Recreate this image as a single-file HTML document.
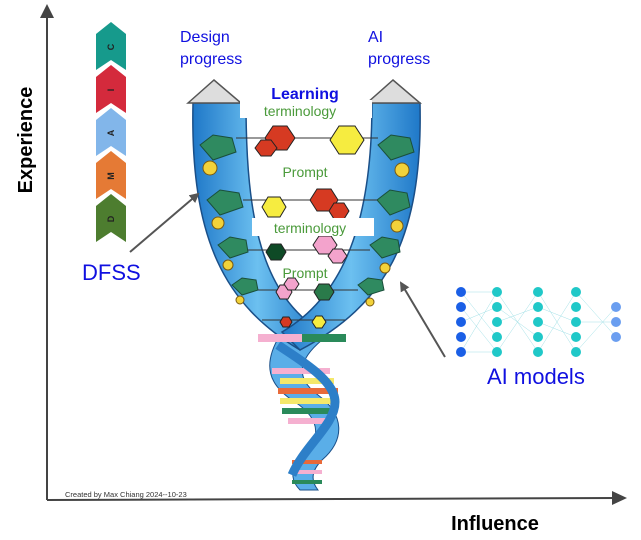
<!DOCTYPE html>
<html><head><meta charset="utf-8"><style>
html,body{margin:0;padding:0;background:#fff;}
svg{display:block;font-family:"Liberation Sans",Arial,sans-serif;}
</style></head><body>
<svg width="641" height="540" viewBox="0 0 641 540" xmlns="http://www.w3.org/2000/svg">
<defs>
<linearGradient id="bl" x1="0" x2="1"><stop offset="0" stop-color="#1f78c8"/><stop offset="0.5" stop-color="#6cc0f0"/><stop offset="1" stop-color="#1f78c8"/></linearGradient>
<marker id="ah" markerWidth="10" markerHeight="10" refX="8" refY="5" orient="auto" markerUnits="userSpaceOnUse"><path d="M0,0 L10,5 L0,10 z" fill="#555"/></marker>
</defs>
<line x1="47" y1="500" x2="47" y2="14" stroke="#444" stroke-width="2"/>
<path d="M40,18 L47,4 L54,18 z" fill="#444"/>
<line x1="47" y1="500" x2="616" y2="498" stroke="#444" stroke-width="2"/>
<path d="M612,491 L627,498 L612,505 z" fill="#444"/>
<text x="32" y="140" font-size="20" font-weight="bold" transform="rotate(-90 32 140)" text-anchor="middle">Experience</text>
<text x="495" y="530" font-size="20" font-weight="bold" text-anchor="middle">Influence</text>
<text x="65" y="497" font-size="7.5" fill="#333">Created by Max Chiang 2024--10-23</text>
<g>
<path d="M96,34 L111,22 L126,34 L126,70 L111,60 L96,70 z" fill="#169a8c"/>
<path d="M96,77 L111,65 L126,77 L126,113 L111,103 L96,113 z" fill="#d42a3c"/>
<path d="M96,120 L111,108 L126,120 L126,156 L111,146 L96,156 z" fill="#82b6ea"/>
<path d="M96,163 L111,151 L126,163 L126,199 L111,189 L96,199 z" fill="#e57a35"/>
<path d="M96,206 L111,194 L126,206 L126,242 L111,232 L96,242 z" fill="#4d7d2f"/>
<g font-size="9" font-weight="bold" fill="#222">
<text transform="translate(114,47) rotate(-90)" text-anchor="middle">C</text>
<text transform="translate(114,90) rotate(-90)" text-anchor="middle">I</text>
<text transform="translate(114,133) rotate(-90)" text-anchor="middle">A</text>
<text transform="translate(114,176) rotate(-90)" text-anchor="middle">M</text>
<text transform="translate(114,219) rotate(-90)" text-anchor="middle">D</text>
</g>
</g>
<g fill="#1010e0" font-size="16">
<text x="180" y="42">Design</text><text x="180" y="64">progress</text>
<text x="368" y="42">AI</text><text x="368" y="64">progress</text>
</g>
<text x="82" y="280" font-size="22" fill="#1010e0">DFSS</text>
<text x="487" y="384" font-size="22" fill="#1010e0">AI models</text>
<path d="M280,335 C262,365 268,385 295,402 C322,420 322,440 298,462 C290,472 292,482 300,490 L318,490 C310,480 312,470 322,460 C345,440 345,415 318,395 C295,378 298,360 322,340 z" fill="#5aaee8" stroke="#1a4f88"/>
<g>
<rect x="272" y="368" width="58" height="6" fill="#f5b0d0"/><rect x="280" y="378" width="54" height="6" fill="#f4e86a"/>
<rect x="278" y="388" width="60" height="6" fill="#e86a3a"/><rect x="280" y="398" width="56" height="6" fill="#f4e86a"/>
<rect x="282" y="408" width="50" height="6" fill="#2a8a5a"/><rect x="288" y="418" width="42" height="6" fill="#f5b0d0"/>
<rect x="292" y="460" width="30" height="4" fill="#e86a3a"/><rect x="292" y="470" width="30" height="4" fill="#f5b0d0"/><rect x="292" y="480" width="30" height="4" fill="#2a8a5a"/>
</g>
<path d="M278,345 C300,360 335,380 335,402 C335,425 305,445 292,475" fill="none" stroke="#2d7fc8" stroke-width="9"/>
<path d="M193,103 C190,240 225,305 300,350 L322,332 C262,295 246,220 246,103 z" fill="url(#bl)" stroke="#1a4f88" stroke-width="1.5"/>
<path d="M420,103 C423,240 385,305 300,350 L282,332 C345,295 372,220 372,103 z" fill="url(#bl)" stroke="#1a4f88" stroke-width="1.5"/>
<rect x="258" y="334" width="44" height="8" fill="#f5b0d0"/><rect x="302" y="334" width="44" height="8" fill="#2a8a5a"/>
<path d="M188,103 L214,80 L241,103 z" fill="#ddd" stroke="#555" stroke-width="1.5"/>
<path d="M367,103 L393,80 L420,103 z" fill="#ddd" stroke="#555" stroke-width="1.5"/>
<g fill="#2f8a60" stroke="#1a4f3a">
<path d="M200,145 L213,135 L232,138 L236,152 L213,160 z"/><path d="M207,200 L220,190 L239,193 L243,207 L220,215 z"/>
<path d="M218,245 L230,237 L246,240 L248,252 L230,258 z"/><path d="M232,285 L242,278 L256,280 L258,290 L242,295 z"/>
<path d="M378,145 L391,135 L410,138 L414,152 L391,160 z"/><path d="M377,200 L390,190 L407,193 L410,207 L390,215 z"/>
<path d="M370,245 L382,237 L398,240 L400,252 L382,258 z"/><path d="M358,285 L368,278 L382,280 L384,290 L368,295 z"/>
</g>
<g fill="#f2d23a" stroke="#7a5a10">
<circle cx="210" cy="168" r="7"/><circle cx="218" cy="223" r="6"/><circle cx="228" cy="265" r="5"/><circle cx="240" cy="300" r="4"/>
<circle cx="402" cy="170" r="7"/><circle cx="397" cy="226" r="6"/><circle cx="385" cy="268" r="5"/><circle cx="370" cy="302" r="4"/>
</g>
<g stroke="#333" stroke-width="1">
<line x1="236" y1="138" x2="378" y2="138"/><line x1="243" y1="200" x2="377" y2="200"/><line x1="248" y1="250" x2="370" y2="250"/><line x1="258" y1="290" x2="358" y2="290"/><line x1="262" y1="320" x2="345" y2="320"/>
</g>
<g stroke="#222">
<path d="M265,138 l8,-12 h14 l8,12 l-8,12 h-14 z" fill="#d63a22"/><path d="M255,148 l6,-8 h10 l6,8 l-6,8 h-10 z" fill="#d63a22"/>
<path d="M330,140 l9,-14 h16 l9,14 l-9,14 h-16 z" fill="#f6ec40"/>
<path d="M262,207 l6,-10 h12 l6,10 l-6,10 h-12 z" fill="#f6ec40"/>
<path d="M310,200 l7,-11 h14 l7,11 l-7,11 h-14 z" fill="#d63a22"/><path d="M329,211 l5,-8 h10 l5,8 l-5,8 h-10 z" fill="#d63a22"/>
<path d="M266,252 l5,-8 h10 l5,8 l-5,8 h-10 z" fill="#0e4a26"/>
<path d="M313,245 l6,-9 h12 l6,9 l-6,9 h-12 z" fill="#f3a3cc"/><path d="M328,256 l5,-7 h9 l5,7 l-5,7 h-9 z" fill="#f3a3cc"/>
<path d="M276,292 l4,-7 h8 l4,7 l-4,7 h-8 z" fill="#f3a3cc"/><path d="M284,284 l4,-6 h7 l4,6 l-4,6 h-7 z" fill="#f3a3cc"/>
<path d="M314,292 l5,-8 h10 l5,8 l-5,8 h-10 z" fill="#2a7a4a"/>
<path d="M280,322 l3,-5 h6 l3,5 l-3,5 h-6 z" fill="#d63a22"/><path d="M312,322 l4,-6 h6 l4,6 l-4,6 h-6 z" fill="#f6ec40"/>
</g>
<rect x="240" y="100" width="132" height="18" fill="#fff"/>
<rect x="252" y="218" width="122" height="18" fill="#fff"/>
<text x="305" y="99" font-size="16" font-weight="bold" fill="#1010e0" text-anchor="middle">Learning</text>
<g fill="#4a9a3a" font-size="14" text-anchor="middle">
<text x="300" y="116">terminology</text><text x="305" y="177">Prompt</text>
<text x="310" y="233">terminology</text><text x="305" y="278">Prompt</text>
</g>
<line x1="130" y1="252" x2="198" y2="194" stroke="#555" stroke-width="2" marker-end="url(#ah)"/>
<line x1="445" y1="357" x2="401" y2="283" stroke="#555" stroke-width="2" marker-end="url(#ah)"/>
<g stroke="#8ad8e0" stroke-width="0.5" opacity="0.8">
<path d="M461,292 L497,337 M461,352 L497,292 M461,322 L497,307 M461,307 L497,352 M497,292 L538,352 M497,352 L538,292 M497,322 L538,307 M538,292 L576,352 M538,352 L576,292 M538,322 L576,337 M576,292 L616,337 M576,352 L616,307 M576,322 L616,322 M461,292 L497,292 M461,352 L497,352 M497,307 L538,337 M538,307 L576,322"/>
</g>
<g fill="#1a5fe6"><circle cx="461" cy="292" r="5"/><circle cx="461" cy="307" r="5"/><circle cx="461" cy="322" r="5"/><circle cx="461" cy="337" r="5"/><circle cx="461" cy="352" r="5"/></g>
<g fill="#20c8c8">
<circle cx="497" cy="292" r="5"/><circle cx="497" cy="307" r="5"/><circle cx="497" cy="322" r="5"/><circle cx="497" cy="337" r="5"/><circle cx="497" cy="352" r="5"/>
<circle cx="538" cy="292" r="5"/><circle cx="538" cy="307" r="5"/><circle cx="538" cy="322" r="5"/><circle cx="538" cy="337" r="5"/><circle cx="538" cy="352" r="5"/>
<circle cx="576" cy="292" r="5"/><circle cx="576" cy="307" r="5"/><circle cx="576" cy="322" r="5"/><circle cx="576" cy="337" r="5"/><circle cx="576" cy="352" r="5"/>
</g>
<g fill="#6a9ef0"><circle cx="616" cy="307" r="5"/><circle cx="616" cy="322" r="5"/><circle cx="616" cy="337" r="5"/></g>
</svg>
</body></html>
